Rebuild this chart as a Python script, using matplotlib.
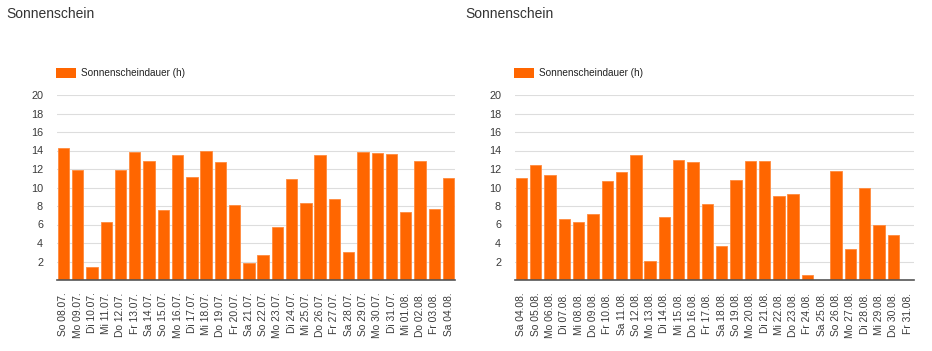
import matplotlib.pyplot as plt
from matplotlib.patches import Rectangle

plt.rcParams['font.family'] = ['Liberation Sans', 'DejaVu Sans']

ORANGE = "#ff6600"
TITLE = "Sonnenschein"
SERIES = "Sonnenscheindauer (h)"

labels_jul = ["So 08.07.", "Mo 09.07.", "Di 10.07.", "Mi 11.07.", "Do 12.07.", "Fr 13.07.",
              "Sa 14.07.", "So 15.07.", "Mo 16.07.", "Di 17.07.", "Mi 18.07.", "Do 19.07.",
              "Fr 20.07.", "Sa 21.07.", "So 22.07.", "Mo 23.07.", "Di 24.07.", "Mi 25.07.",
              "Do 26.07.", "Fr 27.07.", "Sa 28.07.", "So 29.07.", "Mo 30.07.", "Di 31.07.",
              "Mi 01.08.", "Do 02.08.", "Fr 03.08.", "Sa 04.08."]
sun_jul = [14.3, 11.9, 1.4, 6.3, 11.9, 13.8, 12.9, 7.6, 13.5, 11.1, 13.9, 12.8, 8.1, 1.8,
           2.7, 5.7, 10.9, 8.3, 13.5, 8.8, 3.0, 13.8, 13.7, 13.6, 7.3, 12.9, 7.7, 11.0]

labels_aug = ["Sa 04.08.", "So 05.08.", "Mo 06.08.", "Di 07.08.", "Mi 08.08.", "Do 09.08.",
              "Fr 10.08.", "Sa 11.08.", "So 12.08.", "Mo 13.08.", "Di 14.08.", "Mi 15.08.",
              "Do 16.08.", "Fr 17.08.", "Sa 18.08.", "So 19.08.", "Mo 20.08.", "Di 21.08.",
              "Mi 22.08.", "Do 23.08.", "Fr 24.08.", "Sa 25.08.", "So 26.08.", "Mo 27.08.",
              "Di 28.08.", "Mi 29.08.", "Do 30.08.", "Fr 31.08."]
sun_aug = [11.0, 12.4, 11.3, 6.6, 6.3, 7.1, 10.7, 11.7, 13.5, 2.1, 6.8, 13.0, 12.8, 8.2,
           3.7, 10.8, 12.9, 12.9, 9.1, 9.3, 0.5, 0.0, 11.8, 3.4, 10.0, 6.0, 4.9, 0.0]

yticks = [2, 4, 6, 8, 10, 12, 14, 16, 18, 20]

W, H = 932, 351
fig = plt.figure(figsize=(W / 100, H / 100), dpi=100)


def draw(x0, x1, labels, values):
    ax = fig.add_axes([x0 / W, 1 - 280 / H, (x1 - x0) / W, 185 / H])
    ax.bar(range(len(values)), values, width=0.8, color=ORANGE,
           edgecolor="#ff8a3d", linewidth=0.6, zorder=2)
    ax.set_xlim(-0.45, len(values) - 0.55)
    ax.set_ylim(0, 20)
    ax.set_yticks(yticks)
    ax.set_yticklabels([str(t) for t in yticks], fontsize=7.8, color="#3a3a3a")
    ax.set_xticks(range(len(labels)))
    ax.set_xticklabels(labels, rotation=90, fontsize=7.4, color="#3a3a3a")
    ax.tick_params(length=0, axis="y", pad=10)
    ax.tick_params(length=0, axis="x", pad=9)
    ax.grid(axis="y", color="#dddddd", linewidth=0.8, zorder=0)
    for s in ["top", "right", "left"]:
        ax.spines[s].set_visible(False)
    ax.spines["bottom"].set_color("#555555")
    ax.spines["bottom"].set_linewidth(1.2)
    ax.spines["bottom"].set_zorder(3)
    return ax


draw(57, 455, labels_jul, sun_jul)
draw(515, 914, labels_aug, sun_aug)

# titles and legends
for tx, lx in [(6, 56), (465, 514)]:
    fig.text(tx / W, 1 - 14 / H, TITLE, fontsize=10, color="#333333", va="center")
    fig.patches.append(Rectangle((lx / W, 1 - 78 / H), 20 / W, 10 / H, transform=fig.transFigure,
                                 facecolor=ORANGE, edgecolor="none"))
    fig.text((lx + 25) / W, 1 - 73 / H, SERIES, fontsize=7.2, color="#222222", va="center")

fig.savefig("out.png", dpi=100)
